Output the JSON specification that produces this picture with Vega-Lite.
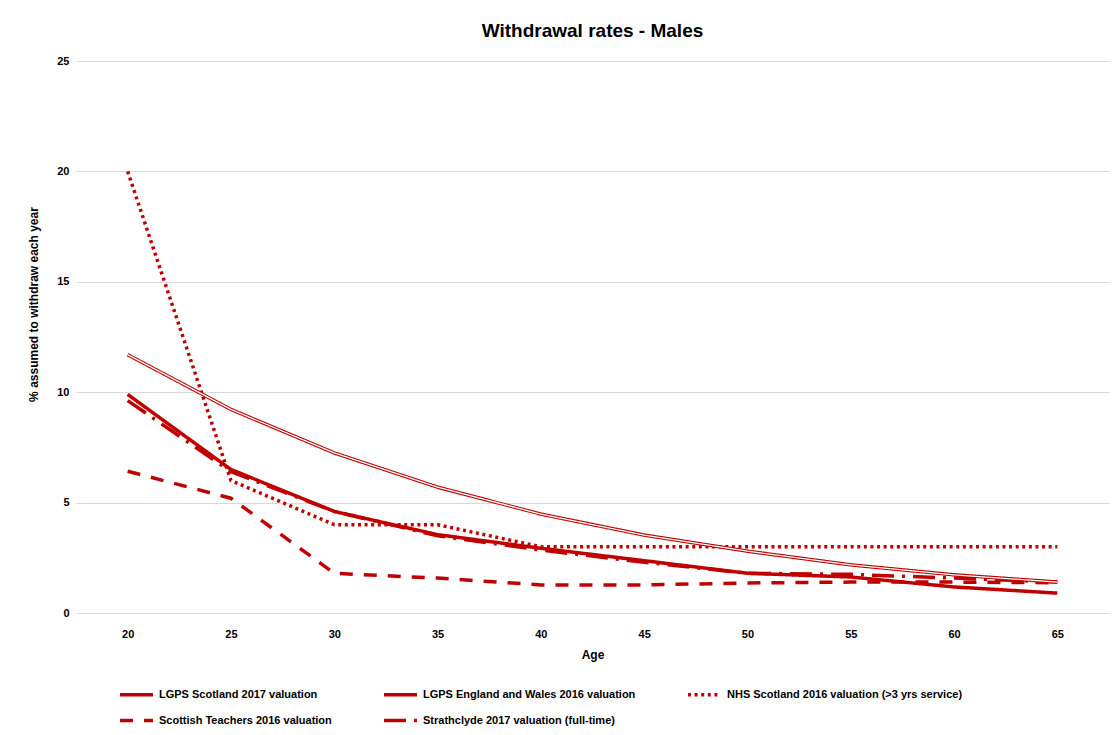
{
  "$schema": "https://vega.github.io/schema/vega-lite/v6.json",
  "autosize": {"type": "none"},
  "width": 1033,
  "height": 552,
  "padding": {"left": 76, "top": 61, "right": 8, "bottom": 122},
  "background": "white",
  "title": {
    "text": "Withdrawal rates - Males",
    "font": "Liberation Sans",
    "fontSize": 19,
    "fontWeight": "bold",
    "color": "#000000",
    "anchor": "middle",
    "offset": 14
  },
  "config": {
    "view": {"stroke": null},
    "font": "Liberation Sans"
  },
  "data": {
    "values": [
      {"series": "LGPS Scotland 2017 valuation", "age": "20", "rate": 9.9},
      {"series": "LGPS Scotland 2017 valuation", "age": "25", "rate": 6.5},
      {"series": "LGPS Scotland 2017 valuation", "age": "30", "rate": 4.6},
      {"series": "LGPS Scotland 2017 valuation", "age": "35", "rate": 3.55},
      {"series": "LGPS Scotland 2017 valuation", "age": "40", "rate": 2.93},
      {"series": "LGPS Scotland 2017 valuation", "age": "45", "rate": 2.37},
      {"series": "LGPS Scotland 2017 valuation", "age": "50", "rate": 1.8},
      {"series": "LGPS Scotland 2017 valuation", "age": "55", "rate": 1.63},
      {"series": "LGPS Scotland 2017 valuation", "age": "60", "rate": 1.18},
      {"series": "LGPS Scotland 2017 valuation", "age": "65", "rate": 0.9},
      {"series": "LGPS England and Wales 2016 valuation", "age": "20", "rate": 11.7},
      {"series": "LGPS England and Wales 2016 valuation", "age": "25", "rate": 9.22},
      {"series": "LGPS England and Wales 2016 valuation", "age": "30", "rate": 7.25},
      {"series": "LGPS England and Wales 2016 valuation", "age": "35", "rate": 5.7},
      {"series": "LGPS England and Wales 2016 valuation", "age": "40", "rate": 4.48},
      {"series": "LGPS England and Wales 2016 valuation", "age": "45", "rate": 3.53},
      {"series": "LGPS England and Wales 2016 valuation", "age": "50", "rate": 2.8},
      {"series": "LGPS England and Wales 2016 valuation", "age": "55", "rate": 2.18},
      {"series": "LGPS England and Wales 2016 valuation", "age": "60", "rate": 1.73},
      {"series": "LGPS England and Wales 2016 valuation", "age": "65", "rate": 1.4},
      {"series": "NHS Scotland 2016 valuation (>3 yrs service)", "age": "20", "rate": 20},
      {"series": "NHS Scotland 2016 valuation (>3 yrs service)", "age": "25", "rate": 6.0},
      {"series": "NHS Scotland 2016 valuation (>3 yrs service)", "age": "30", "rate": 4.0},
      {"series": "NHS Scotland 2016 valuation (>3 yrs service)", "age": "35", "rate": 4.0},
      {"series": "NHS Scotland 2016 valuation (>3 yrs service)", "age": "40", "rate": 3.0},
      {"series": "NHS Scotland 2016 valuation (>3 yrs service)", "age": "45", "rate": 3.0},
      {"series": "NHS Scotland 2016 valuation (>3 yrs service)", "age": "50", "rate": 3.0},
      {"series": "NHS Scotland 2016 valuation (>3 yrs service)", "age": "55", "rate": 3.0},
      {"series": "NHS Scotland 2016 valuation (>3 yrs service)", "age": "60", "rate": 3.0},
      {"series": "NHS Scotland 2016 valuation (>3 yrs service)", "age": "65", "rate": 3.0},
      {"series": "Scottish Teachers 2016 valuation", "age": "20", "rate": 6.42},
      {"series": "Scottish Teachers 2016 valuation", "age": "25", "rate": 5.2},
      {"series": "Scottish Teachers 2016 valuation", "age": "30", "rate": 1.8},
      {"series": "Scottish Teachers 2016 valuation", "age": "35", "rate": 1.58},
      {"series": "Scottish Teachers 2016 valuation", "age": "40", "rate": 1.27},
      {"series": "Scottish Teachers 2016 valuation", "age": "45", "rate": 1.27},
      {"series": "Scottish Teachers 2016 valuation", "age": "50", "rate": 1.36},
      {"series": "Scottish Teachers 2016 valuation", "age": "55", "rate": 1.4},
      {"series": "Scottish Teachers 2016 valuation", "age": "60", "rate": 1.4},
      {"series": "Scottish Teachers 2016 valuation", "age": "65", "rate": 1.37},
      {"series": "Strathclyde 2017 valuation (full-time)", "age": "20", "rate": 9.62},
      {"series": "Strathclyde 2017 valuation (full-time)", "age": "25", "rate": 6.4},
      {"series": "Strathclyde 2017 valuation (full-time)", "age": "30", "rate": 4.6},
      {"series": "Strathclyde 2017 valuation (full-time)", "age": "35", "rate": 3.5},
      {"series": "Strathclyde 2017 valuation (full-time)", "age": "40", "rate": 2.85},
      {"series": "Strathclyde 2017 valuation (full-time)", "age": "45", "rate": 2.3},
      {"series": "Strathclyde 2017 valuation (full-time)", "age": "50", "rate": 1.8},
      {"series": "Strathclyde 2017 valuation (full-time)", "age": "55", "rate": 1.75},
      {"series": "Strathclyde 2017 valuation (full-time)", "age": "60", "rate": 1.58},
      {"series": "Strathclyde 2017 valuation (full-time)", "age": "65", "rate": 1.4}
    ]
  },
  "encoding": {
    "x": {
      "field": "age",
      "type": "ordinal",
      "sort": null,
      "scale": {"type": "point", "padding": 0.5},
      "axis": {
        "title": "Age",
        "titleFont": "Liberation Sans",
        "titleFontSize": 12,
        "titleFontWeight": "bold",
        "titleColor": "#000000",
        "titlePadding": 10,
        "labelFont": "Liberation Sans",
        "labelFontSize": 11,
        "labelFontWeight": "bold",
        "labelColor": "#000000",
        "labelAngle": 0,
        "labelPadding": 15,
        "ticks": false,
        "domain": false,
        "grid": false
      }
    },
    "y": {
      "field": "rate",
      "type": "quantitative",
      "scale": {"domain": [0, 25], "nice": false},
      "axis": {
        "title": "% assumed to withdraw each year",
        "titleFont": "Liberation Sans",
        "titleFontSize": 12,
        "titleFontWeight": "bold",
        "titleColor": "#000000",
        "titleY": 243,
        "titleX": -36,
        "titleAlign": "center",
        "titleBaseline": "bottom",
        "labelFont": "Liberation Sans",
        "labelFontSize": 11,
        "labelFontWeight": "bold",
        "labelColor": "#000000",
        "labelPadding": 7,
        "values": [0, 5, 10, 15, 20, 25],
        "ticks": false,
        "domain": false,
        "grid": true,
        "gridColor": "#d9d9d9",
        "gridWidth": 1
      }
    }
  },
  "layer": [
    {
      "mark": {"type": "line", "strokeWidth": 3.5, "strokeCap": "butt", "strokeJoin": "round"},
      "encoding": {
        "color": {
          "field": "series",
          "type": "nominal",
          "scale": {
            "domain": ["LGPS Scotland 2017 valuation", "LGPS England and Wales 2016 valuation", "NHS Scotland 2016 valuation (>3 yrs service)", "Scottish Teachers 2016 valuation", "Strathclyde 2017 valuation (full-time)"],
            "range": ["#C00000", "#C00000", "#C00000", "#C00000", "#C00000"]
          },
          "legend": {
            "title": null,
            "orient": "none",
            "legendX": 42,
            "legendY": 615,
            "direction": "horizontal",
            "columns": 3,
            "columnPadding": 45,
            "rowPadding": 0,
            "symbolType": "stroke",
            "symbolSize": 1089,
            "symbolStrokeWidth": 3.5,
            "symbolStrokeColor": "#C00000",
            "labelFont": "Liberation Sans",
            "labelFontSize": 11,
            "labelFontWeight": "bold",
            "labelColor": "#000000",
            "labelOffset": 4,
            "labelLimit": 400
          }
        },
        "strokeDash": {
          "field": "series",
          "type": "nominal",
          "scale": {
            "domain": ["LGPS Scotland 2017 valuation", "LGPS England and Wales 2016 valuation", "NHS Scotland 2016 valuation (>3 yrs service)", "Scottish Teachers 2016 valuation", "Strathclyde 2017 valuation (full-time)"],
            "range": [[1, 0], [1, 0], [3, 3.6], [13, 11], [22, 8, 3, 8]]
          },
          "legend": {
            "title": null,
            "orient": "none",
            "legendX": 42,
            "legendY": 615,
            "direction": "horizontal",
            "columns": 3,
            "columnPadding": 45,
            "rowPadding": 0,
            "symbolType": "stroke",
            "symbolSize": 1089,
            "symbolStrokeWidth": 3.5,
            "symbolStrokeColor": "#C00000",
            "labelFont": "Liberation Sans",
            "labelFontSize": 11,
            "labelFontWeight": "bold",
            "labelColor": "#000000",
            "labelOffset": 4,
            "labelLimit": 400
          }
        },
        "detail": {"field": "series"}
      }
    },
    {
      "transform": [{"filter": "datum.series === 'LGPS England and Wales 2016 valuation'"}],
      "mark": {"type": "line", "strokeWidth": 1.3, "color": "#ffffff", "strokeJoin": "round"},
      "encoding": {}
    }
  ]
}
